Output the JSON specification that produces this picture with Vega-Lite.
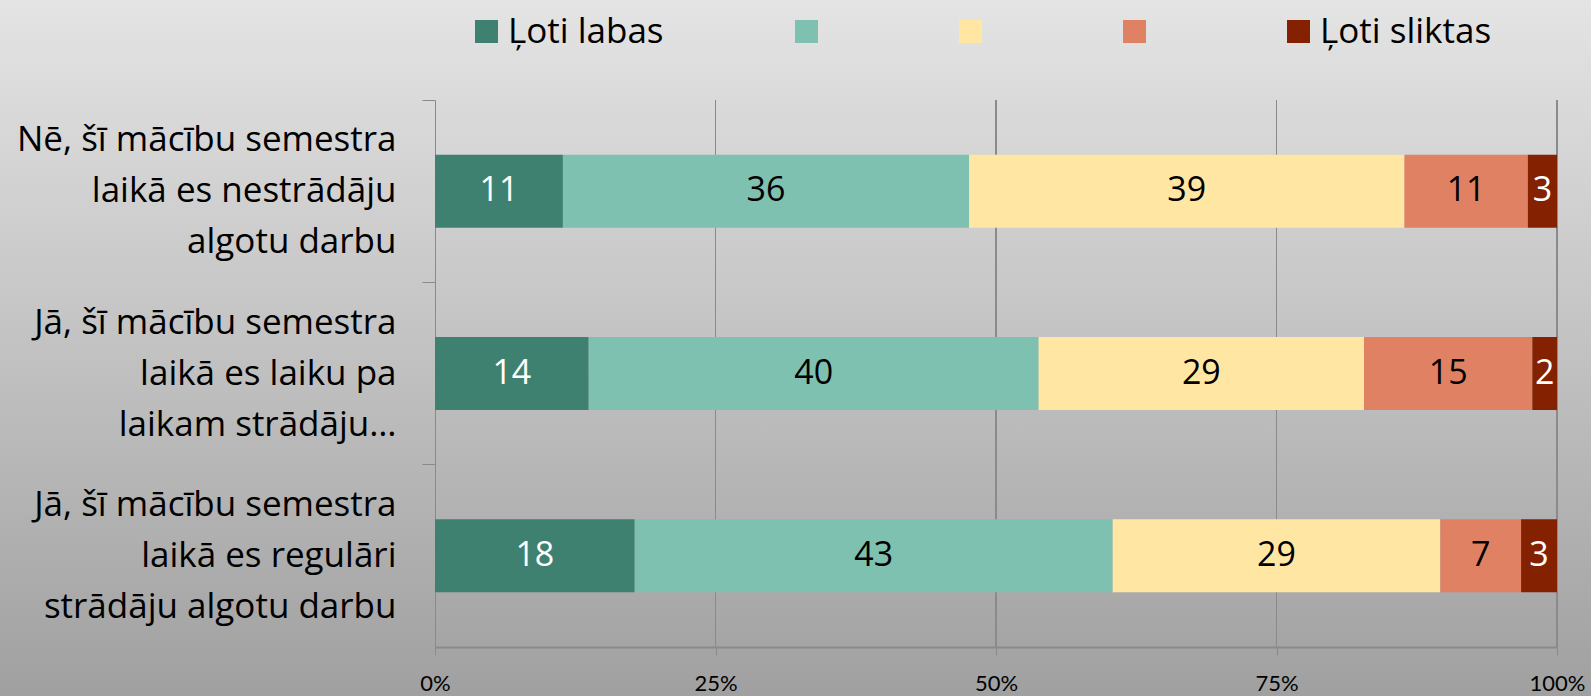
{
  "$schema": "https://vega.github.io/schema/vega-lite/v6.json",
  "width": 1591,
  "height": 696,
  "autosize": {"type": "none"},
  "padding": 0,
  "background": "#c6c6c6",
  "config": {
    "font": "Open Sans",
    "view": {
      "stroke": null,
      "fill": {
        "gradient": "linear",
        "x1": 0, "y1": 0, "x2": 0, "y2": 1,
        "stops": [
          {"offset": 0, "color": "#e4e4e4"},
          {"offset": 1, "color": "#a0a0a0"}
        ]
      }
    },
    "rule": {"color": "#8a8a8a", "strokeWidth": 1}
  },
  "data": {
    "values": [
      {"group": "Nē, šī mācību semestra laikā es nestrādāju algotu darbu", "level": "Ļoti labas", "rank": 0, "value": 11.4},
      {"group": "Nē, šī mācību semestra laikā es nestrādāju algotu darbu", "level": "2", "rank": 1, "value": 36.2},
      {"group": "Nē, šī mācību semestra laikā es nestrādāju algotu darbu", "level": "3", "rank": 2, "value": 38.8},
      {"group": "Nē, šī mācību semestra laikā es nestrādāju algotu darbu", "level": "4", "rank": 3, "value": 11.0},
      {"group": "Nē, šī mācību semestra laikā es nestrādāju algotu darbu", "level": "Ļoti sliktas", "rank": 4, "value": 2.6},
      {"group": "Jā, šī mācību semestra laikā es laiku pa laikam strādāju algotu darbu", "level": "Ļoti labas", "rank": 0, "value": 13.7},
      {"group": "Jā, šī mācību semestra laikā es laiku pa laikam strādāju algotu darbu", "level": "2", "rank": 1, "value": 40.1},
      {"group": "Jā, šī mācību semestra laikā es laiku pa laikam strādāju algotu darbu", "level": "3", "rank": 2, "value": 29.0},
      {"group": "Jā, šī mācību semestra laikā es laiku pa laikam strādāju algotu darbu", "level": "4", "rank": 3, "value": 15.0},
      {"group": "Jā, šī mācību semestra laikā es laiku pa laikam strādāju algotu darbu", "level": "Ļoti sliktas", "rank": 4, "value": 2.2},
      {"group": "Jā, šī mācību semestra laikā es regulāri strādāju algotu darbu", "level": "Ļoti labas", "rank": 0, "value": 17.8},
      {"group": "Jā, šī mācību semestra laikā es regulāri strādāju algotu darbu", "level": "2", "rank": 1, "value": 42.6},
      {"group": "Jā, šī mācību semestra laikā es regulāri strādāju algotu darbu", "level": "3", "rank": 2, "value": 29.2},
      {"group": "Jā, šī mācību semestra laikā es regulāri strādāju algotu darbu", "level": "4", "rank": 3, "value": 7.2},
      {"group": "Jā, šī mācību semestra laikā es regulāri strādāju algotu darbu", "level": "Ļoti sliktas", "rank": 4, "value": 3.2}
    ]
  },
  "encoding": {
    "y": {
      "field": "group",
      "type": "nominal",
      "sort": null,
      "scale": {
        "domain": [
          "Nē, šī mācību semestra laikā es nestrādāju algotu darbu",
          "Jā, šī mācību semestra laikā es laiku pa laikam strādāju algotu darbu",
          "Jā, šī mācību semestra laikā es regulāri strādāju algotu darbu"
        ],
        "paddingInner": 0,
        "paddingOuter": 0,
        "range": [100, 647]
      },
      "axis": {
        "title": null,
        "offset": -435,
        "ticks": true,
        "bandPosition": 0,
        "tickSize": 13,
        "tickColor": "#8a8a8a",
        "domainColor": "#8a8a8a",
        "labelPadding": 26,
        "labelOffset": -51,
        "labelFont": "Open Sans",
        "labelFontSize": 35,
        "labelColor": "#000000",
        "labelLineHeight": 51,
        "labelLimit": 0,
        "labelExpr": "indexof(datum.value, 'Nē') == 0 ? ['Nē, šī mācību semestra', 'laikā es nestrādāju', 'algotu darbu'] : indexof(datum.value, 'laiku pa') > 0 ? ['Jā, šī mācību semestra', 'laikā es laiku pa', 'laikam strādāju…'] : ['Jā, šī mācību semestra', 'laikā es regulāri', 'strādāju algotu darbu']"
      }
    }
  },
  "layer": [
    {
      "mark": {"type": "rule"},
      "encoding": {
        "x": {"datum": 0.25, "type": "quantitative"},
        "y": {"datum": "Nē, šī mācību semestra laikā es nestrādāju algotu darbu", "type": "nominal", "bandPosition": 0},
        "y2": {"datum": "Jā, šī mācību semestra laikā es regulāri strādāju algotu darbu", "bandPosition": 1}
      }
    },
    {
      "mark": {"type": "rule"},
      "encoding": {
        "x": {"datum": 0.5, "type": "quantitative"},
        "y": {"datum": "Nē, šī mācību semestra laikā es nestrādāju algotu darbu", "type": "nominal", "bandPosition": 0},
        "y2": {"datum": "Jā, šī mācību semestra laikā es regulāri strādāju algotu darbu", "bandPosition": 1}
      }
    },
    {
      "mark": {"type": "rule"},
      "encoding": {
        "x": {"datum": 0.75, "type": "quantitative"},
        "y": {"datum": "Nē, šī mācību semestra laikā es nestrādāju algotu darbu", "type": "nominal", "bandPosition": 0},
        "y2": {"datum": "Jā, šī mācību semestra laikā es regulāri strādāju algotu darbu", "bandPosition": 1}
      }
    },
    {
      "mark": {"type": "rule"},
      "encoding": {
        "x": {"datum": 1, "type": "quantitative"},
        "y": {"datum": "Nē, šī mācību semestra laikā es nestrādāju algotu darbu", "type": "nominal", "bandPosition": 0},
        "y2": {"datum": "Jā, šī mācību semestra laikā es regulāri strādāju algotu darbu", "bandPosition": 1}
      }
    },
    {
      "mark": {"type": "bar", "height": {"band": 0.4}},
      "encoding": {
        "x": {
          "field": "value",
          "type": "quantitative",
          "stack": "normalize",
          "scale": {"range": [435, 1557]},
          "axis": {
            "title": null,
            "offset": -49,
            "values": [0, 0.25, 0.5, 0.75, 1],
            "format": ".0%",
            "labelFlush": false,
            "labelFont": "Lato",
            "labelFontSize": 22,
            "labelColor": "#000000",
            "labelPadding": 18,
            "tickSize": 8,
            "tickColor": "#8a8a8a",
            "domainColor": "#8a8a8a",
            "domainWidth": 2,
            "grid": false
          }
        },
        "color": {
          "field": "level",
          "type": "nominal",
          "scale": {
            "domain": ["Ļoti labas", "2", "3", "4", "Ļoti sliktas"],
            "range": ["#3f8170", "#7fc1b0", "#ffe6a3", "#e08163", "#842100"]
          },
          "legend": {
            "title": null,
            "orient": "none",
            "legendX": 469,
            "legendY": 14,
            "direction": "horizontal",
            "columns": 5,
            "gridAlign": "none",
            "columnPadding": 125,
            "symbolType": "square",
            "symbolSize": 529,
            "symbolStrokeWidth": 0,
            "labelFont": "Open Sans",
            "labelFontSize": 35,
            "labelColor": "#000000",
            "labelOffset": 4,
            "labelLimit": 0,
            "labelExpr": "datum.label == 'Ļoti labas' || datum.label == 'Ļoti sliktas' ? datum.label : ''"
          }
        },
        "order": {"field": "rank"}
      }
    },
    {
      "mark": {"type": "text", "font": "Open Sans", "fontSize": 34, "baseline": "middle", "align": "center"},
      "encoding": {
        "x": {"field": "value", "type": "quantitative", "stack": "normalize", "bandPosition": 0.5},
        "detail": {"field": "level"},
        "order": {"field": "rank"},
        "text": {"field": "value", "format": ".0f"},
        "color": {
          "condition": {"test": "datum.rank == 0 || datum.rank == 4", "value": "#ffffff"},
          "value": "#000000"
        }
      }
    }
  ]
}
